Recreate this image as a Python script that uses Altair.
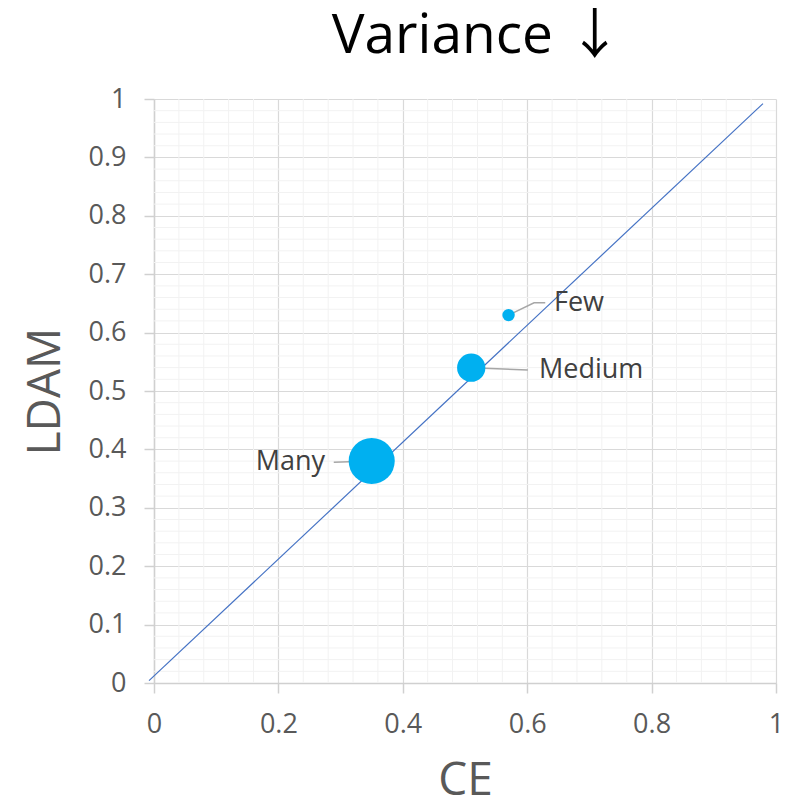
import altair as alt
import pandas as pd
import numpy as np

# --- data ---
groups = ["Few", "Medium", "Many"]
ce = [0.57, 0.51, 0.35]
ldam = [0.63, 0.54, 0.38]
bubble = [1.0, 5.2, 13.8]

# label anchor points (data coordinates)
label_x = [0.643, 0.619, 0.275]
label_y = [0.651, 0.536, 0.378]
label_side = ["left", "left", "right"]

# leader line paths per label
leader_group = ["Few", "Few", "Few", "Medium", "Medium", "Many", "Many"]
leader_x = [0.57, 0.611, 0.629, 0.51, 0.601, 0.289, 0.35]
leader_y = [0.63, 0.651, 0.651, 0.54, 0.536, 0.378, 0.38]

# linear trend line
trend_x = [-0.008, 0.979]
trend_y = [0.004, 0.992]

x_ticks = [0, 0.2, 0.4, 0.6, 0.8, 1]
y_ticks = [0, 0.1, 0.2, 0.3, 0.4, 0.5, 0.6, 0.7, 0.8, 0.9, 1]
x_minor = [round(i * 0.04, 2) for i in range(1, 25) if i % 5 != 0]
y_minor = [round(i * 0.02, 2) for i in range(1, 50) if i % 5 != 0]

FONT = "Open Sans"
GRAY = "#595959"

pts = pd.DataFrame({"group": groups, "ce": ce, "ldam": ldam, "bubble": bubble})
labels = pd.DataFrame({"group": groups, "lx": label_x, "ly": label_y, "side": label_side})
leaders = pd.DataFrame({"group": leader_group, "x": leader_x, "y": leader_y,
                        "order": list(range(len(leader_x)))})
trend = pd.DataFrame({"x": trend_x, "y": trend_y})
xm = pd.DataFrame({"v": x_minor})
ym = pd.DataFrame({"v": y_minor})

xscale = alt.Scale(domain=[0, 1], nice=False, zero=False)
yscale = alt.Scale(domain=[0, 1], nice=False, zero=False)

xaxis = alt.Axis(values=x_ticks, format="~g", title="CE", grid=True, labelFlush=False)
yaxis = alt.Axis(values=y_ticks, format="~g", title="LDAM", grid=True, labelFlush=False)

minor_x = alt.Chart(xm).mark_rule(color="#f2f2f2", strokeWidth=1).encode(
    x=alt.X("v:Q", scale=xscale, axis=xaxis))
minor_y = alt.Chart(ym).mark_rule(color="#f2f2f2", strokeWidth=1).encode(
    y=alt.Y("v:Q", scale=yscale, axis=yaxis))

trend_line = alt.Chart(trend).mark_line(color="#4472C4", strokeWidth=1.2, clip=False).encode(
    x=alt.X("x:Q", scale=xscale), y=alt.Y("y:Q", scale=yscale))

leader_lines = alt.Chart(leaders).mark_line(color="#a6a6a6", strokeWidth=1.5).encode(
    x=alt.X("x:Q", scale=xscale), y=alt.Y("y:Q", scale=yscale),
    detail="group:N", order="order:Q")

bubbles = alt.Chart(pts).mark_circle(color="#00B0F0", opacity=1).encode(
    x=alt.X("ce:Q", scale=xscale), y=alt.Y("ldam:Q", scale=yscale),
    size=alt.Size("bubble:Q", scale=alt.Scale(domain=[0, 13.8], range=[0, 2124], zero=True),
                  legend=None))

text_left = alt.Chart(labels).transform_filter("datum.side == 'left'").mark_text(
    align="left", baseline="middle", font=FONT, fontSize=27, color="#404040").encode(
    x=alt.X("lx:Q", scale=xscale), y=alt.Y("ly:Q", scale=yscale), text="group:N")
text_right = alt.Chart(labels).transform_filter("datum.side == 'right'").mark_text(
    align="right", baseline="middle", font=FONT, fontSize=27, color="#404040").encode(
    x=alt.X("lx:Q", scale=xscale), y=alt.Y("ly:Q", scale=yscale), text="group:N")

chart = alt.layer(minor_x, minor_y, trend_line, leader_lines, bubbles, text_left, text_right).properties(
    width=622, height=584,
    autosize=alt.AutoSizeParams(type="none"),
    padding={"left": 146, "top": 91, "right": 3, "bottom": 116},
    title=alt.TitleParams("Variance ↓", fontSize=55,
                          font="'Open Sans', 'Noto Sans CJK JP'", color="black",
                          fontWeight="normal", anchor="middle", dx=12, offset=20),
).configure_view(stroke=None).configure_axis(
    labelFont=FONT, labelFontSize=27, labelColor=GRAY,
    titleFont=FONT, titleFontSize=46, titleColor=GRAY, titleFontWeight="normal",
    gridColor="#d9d9d9", gridWidth=1.2,
    domainColor="#d0d0d0", domainWidth=1.5,
    tickColor="#d0d0d0", tickSize=10, tickWidth=1.5,
).configure_axisX(labelPadding=18, titlePadding=21).configure_axisY(labelPadding=18, titlePadding=19)

chart.save("out.html", embed_options={"renderer": "svg", "actions": False})
